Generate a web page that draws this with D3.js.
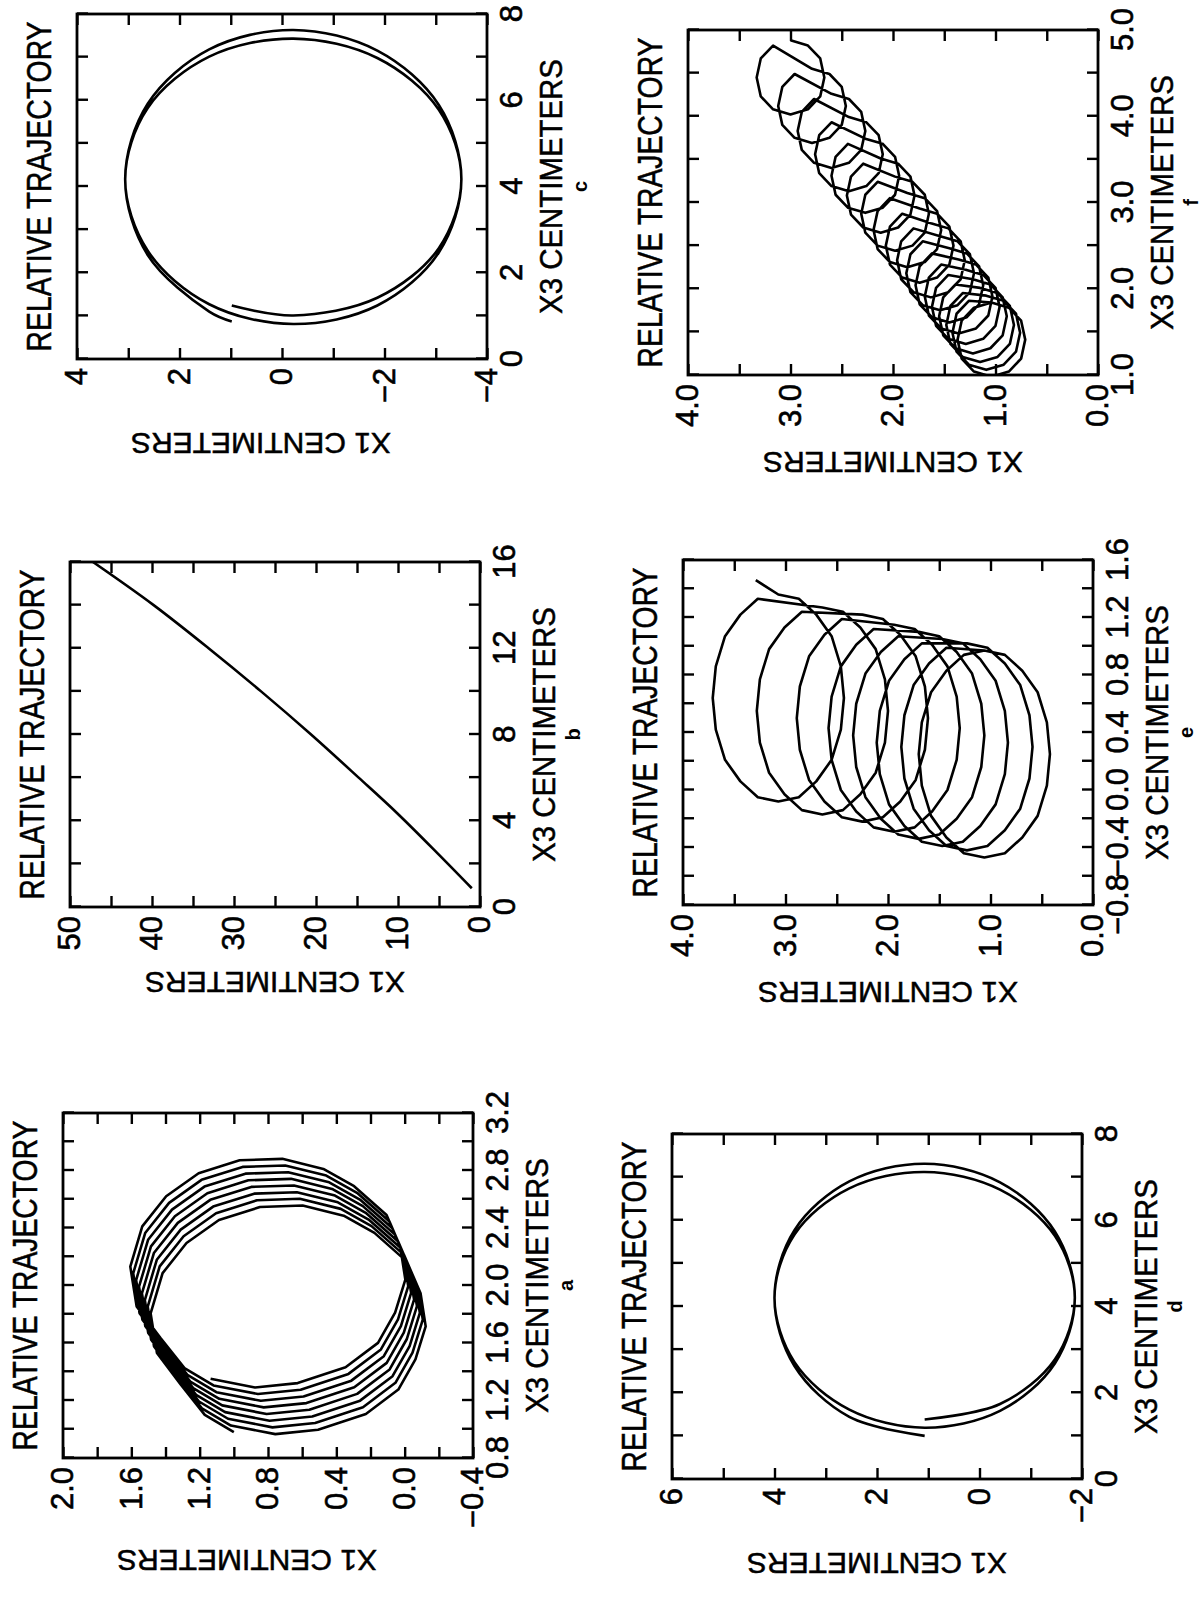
<!DOCTYPE html>
<html>
<head>
<meta charset="utf-8">
<script src="https://cdn.jsdelivr.net/npm/d3@7"></script>
<style>
  body { margin: 0; background: #fff; }
  text { font-family: "Liberation Sans", Arial, sans-serif; fill: #000; }
</style>
</head>
<body>
<div id="chart"></div>
<script>
// ---- data: every point is [X3, X1] in centimeters ----

const aLoop = [
  [0.98, 1.00], [1.10, 1.17], [1.31, 1.31], [1.53, 1.45], [1.76, 1.47],
  [2.04, 1.40], [2.25, 1.26], [2.41, 1.07], [2.50, 0.83], [2.51, 0.58],
  [2.44, 0.34], [2.32, 0.16], [2.12, -0.03], [1.90, -0.11], [1.67, -0.14],
  [1.44, -0.08], [1.23, 0.02], [1.06, 0.21], [0.95, 0.49], [0.92, 0.74]
];
const aShiftX3 = [0, 0.046, 0.093, 0.139, 0.186, 0.232, 0.278, 0.325, 0.371];
const aShiftX1 = [0, 0.017, 0.034, 0.051, 0.068, 0.085, 0.102, 0.119, 0.136];

// panel b : single curve
const bPath = [
  [0.87, 1.0], [2.5, 5.2], [4.35, 10.1], [6.0, 14.8], [8.0, 20.6],
  [10.0, 26.7], [12.0, 33.1], [14.0, 39.8], [16.0, 47.2]
];

// panel c : two turns of the orbit
const cPath = [
  [1.24, 0.98], [1.01, -0.22], [1.42, -1.86], [2.57, -3.06], [4.17, -3.50],
  [5.78, -3.06], [6.98, -1.86], [7.43, -0.22], [7.01, 1.42], [5.82, 2.62],
  [4.17, 3.06], [2.51, 2.62], [1.27, 1.42], [0.81, -0.22], [1.24, -1.86],
  [2.47, -3.06], [4.17, -3.50], [5.89, -3.06], [7.15, -1.86], [7.63, -0.22],
  [7.18, 1.42], [5.92, 2.62], [4.17, 3.06], [2.41, 2.62], [1.10, 1.42],
  [0.87, 0.98]
];

// panel d : two turns of the orbit
const dPath = [
  [1.38, 1.07], [1.74, -0.40], [2.77, -1.47], [4.20, -1.86], [5.64, -1.47],
  [6.71, -0.40], [7.12, 1.07], [6.74, 2.54], [5.67, 3.61], [4.20, 4.00],
  [2.71, 3.61], [1.61, 2.54], [1.19, 1.07], [1.58, -0.40], [2.68, -1.47],
  [4.20, -1.86], [5.74, -1.47], [6.88, -0.40], [7.31, 1.07], [6.90, 2.54],
  [5.77, 3.61], [4.20, 4.00], [2.62, 3.61], [1.44, 2.54], [1.00, 1.07]
];

// panel e : one loop shape (offsets from its centre) + loop centres
const eStart = [1.46, 3.29];
const eLoop = [
  [0.72, 0], [0.69, -0.20], [0.58, -0.37], [0.43, -0.52], [0.22, -0.61],
  [0, -0.64], [-0.22, -0.61], [-0.43, -0.52], [-0.58, -0.37], [-0.69, -0.20],
  [-0.72, 0], [-0.69, 0.20], [-0.58, 0.37], [-0.43, 0.52], [-0.22, 0.61],
  [0, 0.64], [0.22, 0.61], [0.43, 0.52], [0.58, 0.37], [0.69, 0.20]
];
const eCentreX3 = [0.64, 0.55, 0.50, 0.43, 0.38, 0.33, 0.30, 0.25];
const eCentreX1 = [3.07, 2.64, 2.25, 1.94, 1.70, 1.47, 1.23, 1.06];

// panel f : one 12-gon (offsets from its centre) + loop centres
const fLoop = [
  [0.43, 0], [0.37, -0.17], [0.22, -0.29], [0, -0.33], [-0.22, -0.29], [-0.37, -0.17],
  [-0.43, 0], [-0.37, 0.17], [-0.22, 0.29], [0, 0.33], [0.22, 0.29], [0.37, 0.17]
];
const fCentreX3 = [4.45, 4.12, 3.83, 3.56, 3.31, 3.08, 2.87, 2.68, 2.50,
                   2.33, 2.18, 2.04, 1.91, 1.79, 1.68, 1.58, 1.49, 1.41];
const fCentreX1 = [3.00, 2.79, 2.60, 2.43, 2.27, 2.12, 1.98, 1.86, 1.74,
                   1.63, 1.54, 1.45, 1.36, 1.29, 1.22, 1.15, 1.09, 1.04];

// ---- ticks (all) and labelled ticks ----
const aX3Ticks = [0.8, 1.0, 1.2, 1.4, 1.6, 1.8, 2.0, 2.2, 2.4, 2.6, 2.8, 3.0, 3.2];
const aX3Labels = [0.8, 1.2, 1.6, 2.0, 2.4, 2.8, 3.2];
const aX1Ticks = [-0.4, -0.2, 0.0, 0.2, 0.4, 0.6, 0.8, 1.0, 1.2, 1.4, 1.6, 1.8, 2.0];
const aX1Labels = [-0.4, 0.0, 0.4, 0.8, 1.2, 1.6, 2.0];

const bX3Ticks = [0, 2, 4, 6, 8, 10, 12, 14, 16];
const bX3Labels = [0, 4, 8, 12, 16];
const bX1Ticks = [0, 5, 10, 15, 20, 25, 30, 35, 40, 45, 50];
const bX1Labels = [0, 10, 20, 30, 40, 50];

const cX3Ticks = [0, 1, 2, 3, 4, 5, 6, 7, 8];
const cX3Labels = [0, 2, 4, 6, 8];
const cX1Ticks = [-4, -3, -2, -1, 0, 1, 2, 3, 4];
const cX1Labels = [-4, -2, 0, 2, 4];

const dX3Ticks = [0, 1, 2, 3, 4, 5, 6, 7, 8];
const dX3Labels = [0, 2, 4, 6, 8];
const dX1Ticks = [-2, -1, 0, 1, 2, 3, 4, 5, 6];
const dX1Labels = [-2, 0, 2, 4, 6];

const eX3Ticks = [-0.8, -0.6, -0.4, -0.2, 0.0, 0.2, 0.4, 0.6, 0.8, 1.0, 1.2, 1.4, 1.6];
const eX3Labels = [-0.8, -0.4, 0.0, 0.4, 0.8, 1.2, 1.6];
const eX1Ticks = [0, 0.5, 1.0, 1.5, 2.0, 2.5, 3.0, 3.5, 4.0];
const eX1Labels = [0, 1.0, 2.0, 3.0, 4.0];

const fX3Ticks = [1.0, 1.5, 2.0, 2.5, 3.0, 3.5, 4.0, 4.5, 5.0];
const fX3Labels = [1.0, 2.0, 3.0, 4.0, 5.0];
const fX1Ticks = [0, 0.5, 1.0, 1.5, 2.0, 2.5, 3.0, 3.5, 4.0];
const fX1Labels = [0, 1.0, 2.0, 3.0, 4.0];

// ---- build the looped paths from the pieces above ----
const moved = (pts, d3x, d1x) => pts.map(([u, v]) => [u + d3x, v + d1x]);

const aPath = moved(aLoop.slice(0, 4), aShiftX3[0], aShiftX1[0]);
for (let k = 1; k < aShiftX3.length; k++) {
  aPath.push(...moved(aLoop.slice(4), aShiftX3[k], aShiftX1[k]));
  const tail = k === aShiftX3.length - 1 ? aLoop.slice(0, 1) : aLoop.slice(0, 4);
  aPath.push(...moved(tail, aShiftX3[k], aShiftX1[k]));
}

const ePath = [eStart];
eCentreX3.forEach((c, k) => ePath.push(...moved(eLoop, c, eCentreX1[k])));
ePath.push(...moved(eLoop.slice(0, 1), eCentreX3[eCentreX3.length - 1], eCentreX1[eCentreX1.length - 1]));

const fPath = [];
fCentreX3.forEach((c, k) => fPath.push(...moved(fLoop, c, fCentreX1[k])));
fPath.push(...moved(fLoop.slice(0, 1), fCentreX3[fCentreX3.length - 1], fCentreX1[fCentreX1.length - 1]));

// ---- panels (page is turned: each plot is drawn upright, then rotated -90) ----
const panels = [
  {id: "c", left: 77, bottom: 359, x3: [0, 8], x1: [-4, 4], x3t: cX3Ticks, x3l: cX3Labels, x1t: cX1Ticks, x1l: cX1Labels, fmt: "d", path: cPath, smooth: true, x1Off: 85, x1Shift: -21},
  {id: "f", left: 688, bottom: 375, x3: [1, 5], x1: [0, 4], x3t: fX3Ticks, x3l: fX3Labels, x1t: fX1Ticks, x1l: fX1Labels, fmt: ".1f", path: fPath, smooth: false, x1Off: 88, x1Shift: 0},
  {id: "b", left: 70, bottom: 907, x3: [0, 16], x1: [0, 50], x3t: bX3Ticks, x3l: bX3Labels, x1t: bX1Ticks, x1l: bX1Labels, fmt: "d", path: bPath, smooth: true, x1Off: 76, x1Shift: 0},
  {id: "e", left: 683, bottom: 905, x3: [-0.8, 1.6], x1: [0, 4], x3t: eX3Ticks, x3l: eX3Labels, x1t: eX1Ticks, x1l: eX1Labels, fmt: ".1f", path: ePath, smooth: false, x1Off: 88, x1Shift: 0},
  {id: "a", left: 63, bottom: 1458, x3: [0.8, 3.2], x1: [-0.4, 2.0], x3t: aX3Ticks, x3l: aX3Labels, x1t: aX1Ticks, x1l: aX1Labels, fmt: ".1f", path: aPath, smooth: false, x1Off: 103, x1Shift: -21},
  {id: "d", left: 672, bottom: 1479, x3: [0, 8], x1: [-2, 6], x3t: dX3Ticks, x3l: dX3Labels, x1t: dX1Ticks, x1l: dX1Labels, fmt: "d", path: dPath, smooth: true, x1Off: 85, x1Shift: 0}
];

const PW = 345;   // X3 axis length
const PH = 410;   // X1 axis length
const TICK = 11;
const FONT = '"Liberation Sans", Arial, sans-serif';

const svg = d3.select("#chart").append("svg")
  .attr("width", 1203)
  .attr("height", 1598);

const has = (arr, d) => arr.some(v => Math.abs(v - d) < 1e-9);

// squeeze a label to a given length with a real transform (so its box is right)
function squeezed(g, str, size, len, tx, ty, rot) {
  const t = g.append("text")
    .attr("text-anchor", "middle")
    .style("font-size", size + "px")
    .style("stroke", "#000").style("stroke-width", 0.5)
    .text(str);
  const k = len / t.node().getComputedTextLength();
  t.attr("transform", `translate(${tx},${ty}) rotate(${rot}) scale(${k},1)`);
  return t;
}

panels.forEach(p => {
  const g = svg.append("g")
    .attr("transform", `translate(${p.left},${p.bottom}) rotate(-90)`);

  const x = d3.scaleLinear().domain(p.x3).range([0, PW]);
  const y = d3.scaleLinear().domain(p.x1).range([PH, 0]);
  const fmt = d3.format(p.fmt);

  g.append("clipPath").attr("id", "clip-" + p.id)
    .append("rect").attr("width", PW).attr("height", PH);

  g.append("g")
    .call(d3.axisLeft(y).tickValues(p.x1t).tickSizeInner(-TICK).tickSizeOuter(0).tickPadding(9)
      .tickFormat(d => has(p.x1l, d) ? fmt(d) : ""));
  g.append("g").attr("transform", `translate(0,${PH})`)
    .call(d3.axisBottom(x).tickValues(p.x3t).tickSizeInner(-TICK).tickSizeOuter(0).tickPadding(13)
      .tickFormat(d => has(p.x3l, d) ? fmt(d) : ""));
  g.append("g")
    .call(d3.axisTop(x).tickValues(p.x3t).tickSizeInner(-TICK).tickSizeOuter(0).tickFormat(""));
  g.append("g").attr("transform", `translate(${PW},0)`)
    .call(d3.axisRight(y).tickValues(p.x1t).tickSizeInner(-TICK).tickSizeOuter(0).tickFormat(""));

  g.selectAll(".domain").remove();
  g.selectAll(".tick line").attr("stroke", "#000").attr("stroke-width", 2.4);
  g.selectAll(".tick text")
    .style("font-size", "31px").style("font-family", FONT)
    .style("stroke", "#000").style("stroke-width", 0.6);

  g.append("rect")
    .attr("width", PW).attr("height", PH)
    .attr("fill", "none").attr("stroke", "#000").attr("stroke-width", 2.8);

  const line = d3.line()
    .x(d => x(d[0]))
    .y(d => y(d[1]))
    .curve(p.smooth ? d3.curveCatmullRom : d3.curveLinear);

  g.append("path")
    .datum(p.path)
    .attr("clip-path", `url(#clip-${p.id})`)
    .attr("fill", "none")
    .attr("stroke", "#000")
    .attr("stroke-width", 2.6)
    .attr("stroke-linejoin", "round")
    .attr("d", line);

  squeezed(g, "RELATIVE TRAJECTORY", 35, 330, PW / 2, -26, 0);
  squeezed(g, "X3 CENTIMETERS", 31, 255, PW / 2, PH + 75, 0);
  squeezed(g, "X1 CENTIMETERS", 30, 260, -p.x1Off + 11, PH / 2 + p.x1Shift, -90);

  g.append("text")
    .attr("x", PW / 2).attr("y", PH + 100)
    .attr("text-anchor", "middle")
    .style("font-size", "20px").style("font-weight", "bold")
    .text(p.id);
});
</script>
</body>
</html>
